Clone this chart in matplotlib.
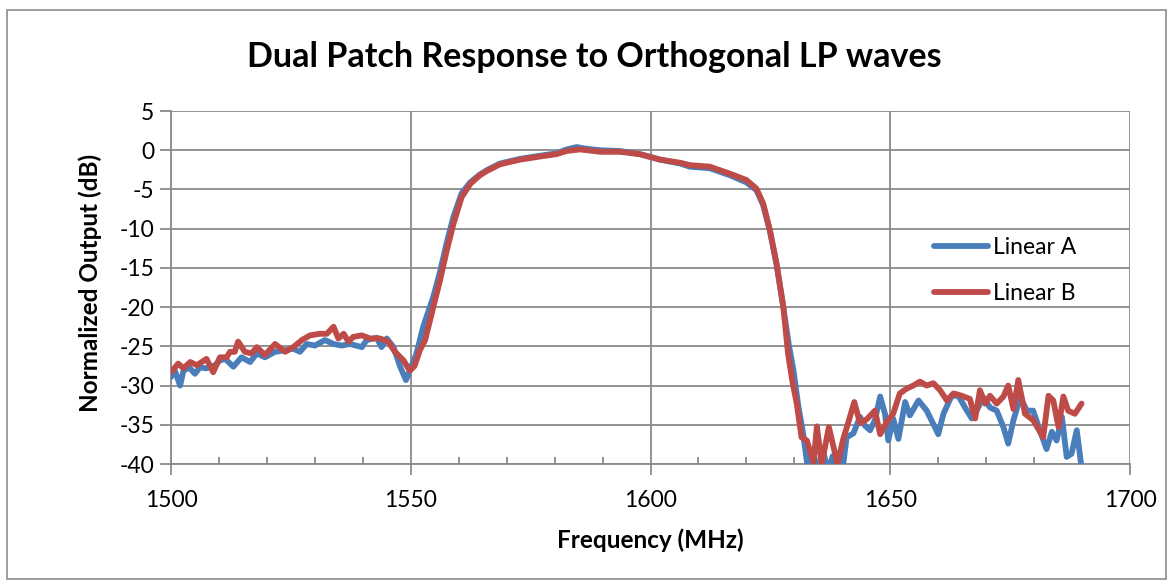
import matplotlib
matplotlib.use("Agg")
import matplotlib.pyplot as plt
from matplotlib.patches import Rectangle
from matplotlib.ticker import MultipleLocator

plt.rcParams['font.family'] = ['Lato', 'DejaVu Sans']
plt.rcParams['axes.unicode_minus'] = False

title = "Dual Patch Response to Orthogonal LP waves"
xlabel = "Frequency (MHz)"
ylabel = "Normalized Output (dB)"
series_names = ["Linear A", "Linear B"]

freq_a = [1500, 1500.8, 1501.9, 1502.6, 1503.8, 1505, 1506, 1507.4, 1509.2, 1510.2,
          1511.3, 1513, 1514.7, 1516.5, 1517.9, 1519.6, 1521.7, 1523.8, 1525.5, 1526.9,
          1528.3, 1530, 1532.1, 1533.9, 1535.6, 1537.3, 1539.8, 1540.8, 1542.9, 1543.9,
          1545, 1546.4, 1547.8, 1549, 1549.8, 1551.2, 1552.6, 1554.7, 1556.1, 1557.5,
          1558.9, 1560.6, 1562.4, 1564.4, 1566, 1568.6, 1572.8, 1577, 1580.4, 1582.5,
          1584.6, 1586.5, 1589.5, 1593.6, 1597.8, 1602, 1606.2, 1608.2, 1612.4, 1616.6,
          1620, 1622.1, 1623.5, 1624.9, 1626.3, 1627.7, 1628.9, 1629.8, 1630.8, 1631.8,
          1632.8, 1634, 1635, 1636, 1637, 1638, 1639, 1640.2, 1640.9, 1642.3,
          1643.7, 1644.7, 1645.8, 1646.8, 1647.9, 1648.9, 1649.6, 1650.6, 1651.7, 1653.1,
          1654.1, 1655.9, 1657.6, 1659.3, 1660, 1661.1, 1662.8, 1664.2, 1665.6, 1667,
          1668, 1669.4, 1670.8, 1672.2, 1673.6, 1674.6, 1675.7, 1677.1, 1678.5, 1679.8,
          1681.2, 1682.6, 1683.7, 1684.7, 1685.8, 1686.8, 1687.8, 1688.9, 1689.9]
db_a = [-28.9, -28.1, -30.0, -28.1, -27.7, -28.5, -27.7, -27.8, -27.4, -26.8,
        -26.6, -27.6, -26.4, -27.0, -25.9, -26.4, -25.7, -25.5, -25.3, -25.7,
        -24.7, -24.9, -24.2, -24.7, -24.9, -24.7, -25.1, -24.2, -23.9, -25.1,
        -24.0, -25.1, -27.6, -29.3, -28.1, -25.9, -22.5, -18.7, -15.5, -11.8,
        -8.5, -5.5, -4.1, -3.1, -2.5, -1.7, -1.1, -0.7, -0.4, 0.1,
        0.4, 0.2, 0.0, -0.1, -0.5, -1.2, -1.7, -2.1, -2.3, -3.2,
        -4.1, -5.1, -7.0, -10.3, -14.6, -20.0, -25.0, -28.0, -32.5, -36.0,
        -40.5, -38.8, -41.0, -38.3, -41.0, -39.0, -41.0, -40.0, -36.6, -36.1,
        -34.0, -35.1, -35.7, -34.4, -31.4, -33.6, -37.0, -34.2, -36.8, -32.1,
        -33.8, -31.9, -33.2, -35.3, -36.2, -33.6, -31.3, -31.3, -32.8, -34.2,
        -33.2, -31.5, -32.8, -33.2, -35.3, -37.4, -34.4, -31.5, -33.2, -33.2,
        -35.7, -38.1, -35.9, -37.0, -34.0, -39.1, -38.7, -35.7, -40.5]

freq_b = [1500, 1501.5, 1502.6, 1504, 1505.4, 1507.4, 1508.8, 1510.2, 1511.6, 1512.3,
          1513.3, 1514, 1515.4, 1516.8, 1517.9, 1519.6, 1521.7, 1523.8, 1525.5, 1527.3,
          1529, 1531, 1532.5, 1533.9, 1534.9, 1536, 1537, 1538, 1539.8, 1541.5,
          1543.6, 1545.3, 1546.7, 1548.5, 1549.8, 1550.8, 1551.9, 1553, 1554.7, 1556.1,
          1557.5, 1558.9, 1560.6, 1562.4, 1564.4, 1566, 1568.6, 1572.8, 1577, 1580.4,
          1582.5, 1585.3, 1589.5, 1593.6, 1597.8, 1602, 1606.2, 1608.2, 1612.4, 1616.6,
          1620, 1622.1, 1623.5, 1624.9, 1626.3, 1627.7, 1628.7, 1629.6, 1630.5, 1631.5,
          1632.6, 1634, 1634.7, 1635.7, 1637.2, 1639.0, 1640.2, 1641.3, 1642.5, 1643.7,
          1645.1, 1646.8, 1647.9, 1649.3, 1650.6, 1652, 1653.4, 1654.8, 1656.2, 1657.6,
          1659, 1660.4, 1661.8, 1663.2, 1664.9, 1666.6, 1667.7, 1668.7, 1669.8, 1670.8,
          1672.2, 1673.6, 1674.6, 1675.7, 1676.7, 1678.1, 1679.8, 1681.9, 1683, 1684,
          1685.1, 1686.1, 1687.1, 1688.5, 1689.9]
db_b = [-28.3, -27.2, -27.8, -27.0, -27.4, -26.6, -28.3, -26.4, -26.4, -25.7,
        -25.7, -24.4, -25.7, -25.9, -25.1, -26.1, -24.7, -25.7, -25.1, -24.2,
        -23.6, -23.4, -23.4, -22.5, -24.0, -23.4, -24.4, -23.8, -23.6, -24.0,
        -24.0, -24.4, -25.7, -26.8, -28.1, -27.5, -25.5, -24.2, -20.0, -16.6,
        -12.8, -9.4, -6.0, -4.3, -3.2, -2.6, -1.8, -1.2, -0.8, -0.5,
        -0.1, 0.1, -0.2, -0.2, -0.5, -1.2, -1.6, -1.9, -2.1, -3.0,
        -3.8, -4.9, -6.8, -10.2, -14.5, -20.0, -26.0, -29.5, -32.3, -36.6,
        -37.0, -39.8, -35.2, -40.0, -35.3, -40.0, -36.8, -34.6, -32.1, -34.8,
        -34.3, -33.2, -36.2, -34.6, -33.6, -31.0, -30.4, -30.0, -29.5, -30.0,
        -29.7, -30.6, -31.9, -31.0, -31.3, -31.7, -34.2, -30.6, -32.3, -31.3,
        -32.3, -31.4, -30.0, -33.0, -29.3, -33.6, -34.4, -36.6, -31.3, -31.9,
        -35.3, -31.4, -33.2, -33.6, -32.3]

W, H = 1171, 582
fig = plt.figure(figsize=(W / 100, H / 100), dpi=100)
fig.patch.set_facecolor("white")

# outer chart border
fig.patches.append(Rectangle((7 / W, 3 / H), (1166 - 7) / W, (579 - 10) / H,
                             transform=fig.transFigure, fill=False,
                             edgecolor="#8c8c8c", linewidth=1.2))

L, R, T, B = 171, 1130, 111, 464
ax = fig.add_axes([L / W, (H - B) / H, (R - L) / W, (B - T) / H])

grid_c = "#8a8a8a"
lw = 4.2
ax.plot(freq_a, db_a, color="#4A7EBB", lw=lw, solid_joinstyle="round",
        solid_capstyle="round", label=series_names[0], zorder=3)
ax.plot(freq_b, db_b, color="#BE4B48", lw=lw, solid_joinstyle="round",
        solid_capstyle="round", label=series_names[1], zorder=4)

ax.set_xlim(1500, 1700)
ax.set_ylim(-40, 5)
ax.xaxis.set_major_locator(MultipleLocator(50))
ax.xaxis.set_minor_locator(MultipleLocator(10))
ax.yaxis.set_major_locator(MultipleLocator(5))
ax.grid(True, which="major", color=grid_c, lw=1.3)
ax.set_axisbelow(True)
for s in ["top", "right"]:
    ax.spines[s].set_visible(False)
for s in ["left", "bottom"]:
    ax.spines[s].set_color(grid_c)
    ax.spines[s].set_linewidth(1.3)
ax.tick_params(axis="both", which="major", direction="out", length=8,
               width=1.3, color=grid_c, labelsize=16.5, labelcolor="black")
ax.tick_params(axis="x", which="minor", direction="in", length=5,
               width=1.3, color=grid_c)
ax.tick_params(axis="x", which="major", pad=11)
ax.tick_params(axis="y", which="major", pad=4)

fig.text(594 / W, 1 - 57 / H, title, fontsize=24.5, fontweight="bold",
         ha="center", va="center")
fig.text(650 / W, 1 - 540 / H, xlabel, fontsize=17.5, fontweight="bold",
         ha="center", va="center")
fig.text(90 / W, 1 - 283 / H, ylabel, fontsize=17.5, fontweight="bold",
         ha="center", va="center", rotation=90)

leg = ax.legend(loc="upper left", bbox_to_anchor=((925 - L) / (R - L), (B - 228) / (B - T)),
                frameon=False, fontsize=16.5, handlelength=2.35, handletextpad=0.2,
                labelspacing=1.1, borderaxespad=0)
for h in leg.get_lines():
    h.set_linewidth(lw)

fig.savefig("out.png", dpi=100, facecolor="white")
